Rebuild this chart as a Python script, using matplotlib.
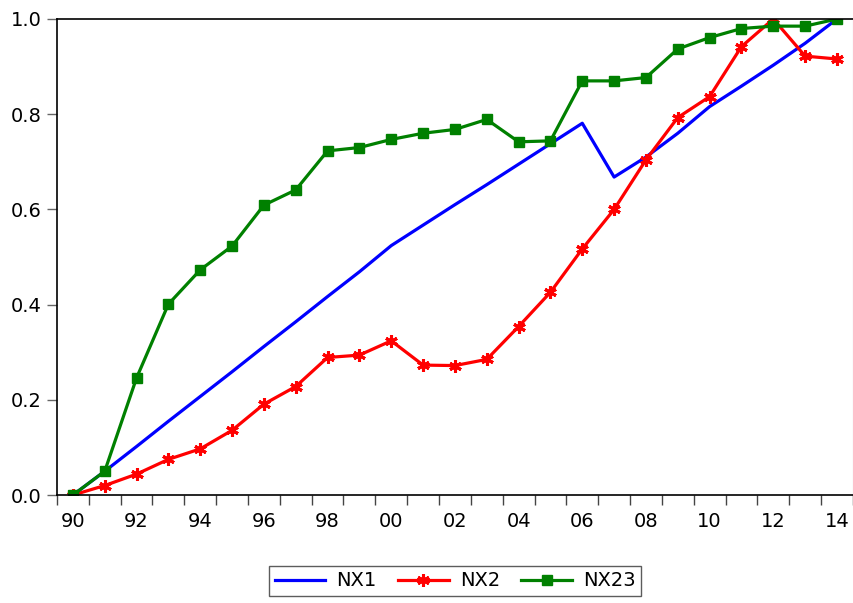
import matplotlib
matplotlib.use("Agg")
import matplotlib.pyplot as plt
import numpy as np

plt.rcParams['font.family'] = ['DejaVu Sans']

years = list(range(1990, 2015))
nx1 = [0.0, 0.05, 0.102, 0.155, 0.207, 0.259, 0.312, 0.364, 0.417, 0.469,
       0.524, 0.567, 0.610, 0.652, 0.695, 0.738, 0.781, 0.668, 0.710, 0.760,
       0.816, 0.859, 0.903, 0.949, 1.0]
nx2 = [0.0, 0.020, 0.044, 0.075, 0.097, 0.136, 0.191, 0.228, 0.289, 0.294,
       0.324, 0.273, 0.272, 0.285, 0.354, 0.426, 0.517, 0.600, 0.704, 0.793,
       0.837, 0.942, 1.0, 0.922, 0.916]
nx23 = [0.0, 0.050, 0.246, 0.401, 0.473, 0.523, 0.609, 0.641, 0.723, 0.730,
        0.747, 0.760, 0.768, 0.789, 0.742, 0.744, 0.870, 0.870, 0.877, 0.937,
        0.961, 0.980, 0.985, 0.985, 1.0]
tick_years = list(range(1990, 2015, 2))
tick_labels = ['%02d' % (y % 100) for y in tick_years]

fig = plt.figure(figsize=(8.54, 6.03), dpi=100)
ax = fig.add_axes([0.0667, 0.179, 0.932, 0.7895])

ax.plot(years, nx1, color='#0000ff', lw=2.3, label='NX1')
ax.plot(years, nx2, color='#ff0000', lw=2.3, marker=(6, 2, 0), ms=9, mew=2.2,
        label='NX2')
ax.plot(years, nx23, color='#008000', lw=2.3, marker='s', ms=7.5, label='NX23')

ax.set_xlim(1989.5, 2014.5)
ax.set_ylim(0, 1.0)
ax.set_yticks([0.0, 0.2, 0.4, 0.6, 0.8, 1.0])
ax.set_yticklabels(['0.0', '0.2', '0.4', '0.6', '0.8', '1.0'])

# boundaries between years carry the tick marks, labels sit at year centres
ax.set_xticks(np.arange(1989.5, 2015, 1.0))
ax.set_xticklabels([])
ax.set_xticks(tick_years, minor=True)
ax.set_xticklabels(tick_labels, minor=True)
ax.tick_params(axis='x', which='major', direction='out', length=7, width=1,
               color='#444444')
ax.tick_params(axis='x', which='minor', length=0, pad=12, labelsize=14)
ax.tick_params(axis='y', direction='out', length=7, width=1, pad=4,
               color='#666666', labelsize=14)

for s in ['left', 'bottom', 'top']:
    ax.spines[s].set_color('black')
    ax.spines[s].set_linewidth(1.2)
ax.spines['right'].set_color('#bbbbbb')

leg = fig.legend(loc='center', bbox_to_anchor=(0.533, 0.0365), ncol=3,
                 fontsize=14, frameon=True, fancybox=False, handlelength=2.6,
                 columnspacing=1.1, borderpad=0.3, handletextpad=0.57,
                 borderaxespad=0)
leg.get_frame().set_edgecolor('#333333')
leg.get_frame().set_linewidth(1.0)

fig.savefig('out.png', dpi=100)
